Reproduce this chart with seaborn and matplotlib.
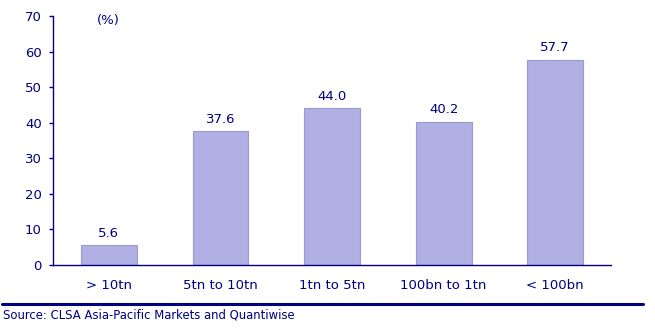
import matplotlib
matplotlib.use("Agg")
import matplotlib.pyplot as plt
import seaborn as sns
import pandas as pd
from matplotlib.lines import Line2D

categories = ["> 10tn", "5tn to 10tn", "1tn to 5tn", "100bn to 1tn", "< 100bn"]
values = [5.6, 37.6, 44.0, 40.2, 57.7]
yticks = [0, 10, 20, 30, 40, 50, 60, 70]

navy = "#000080"
sns.set_theme(style="white")
plt.rcParams["font.family"] = ["DejaVu Sans"]

df = pd.DataFrame({"cat": categories, "val": values})

fig = plt.figure(figsize=(6.55, 3.33), dpi=100)
ax = fig.add_axes([53/655, 1-265/333, (611-53)/655, (265-16)/333])
sns.barplot(data=df, x="cat", y="val", ax=ax, color="#b0b0e4", width=0.5,
            edgecolor="#9a9acc", linewidth=0.8, saturation=1)

ax.set_ylim(0, 70)
ax.set_yticks(yticks)
ax.set_xlim(-0.5, len(categories) - 0.5)
ax.set_xlabel("")
ax.set_ylabel("")
for s in ["top", "right"]:
    ax.spines[s].set_visible(False)
for s in ["left", "bottom"]:
    ax.spines[s].set_color(navy)
    ax.spines[s].set_linewidth(1.0)

fs = 9.5
ax.set_xticks([i - 0.5 for i in range(len(categories) + 1)], minor=True)
ax.tick_params(axis="x", which="major", length=0, pad=10, labelsize=fs, labelcolor=navy)
ax.tick_params(axis="x", which="minor", length=3, width=1, color=navy, direction="out")
ax.tick_params(axis="y", which="major", length=3, width=1, color=navy, direction="out",
               labelsize=fs, labelcolor=navy, pad=5, left=True)
ax.set_xticks(range(len(categories)))
ax.set_xticklabels(categories)

for i, v in enumerate(values):
    ax.annotate(f"{v:.1f}", (i, v), xytext=(0, 4), textcoords="offset points",
                ha="center", va="bottom", color=navy, fontsize=fs)

ax.text(0.1, 0.98, "(%)", transform=ax.transAxes, ha="center", va="center",
        color=navy, fontsize=fs)

fig.add_artist(Line2D([2/655, 643/655], [1-304/333, 1-304/333], color=navy, linewidth=2.2))
fig.text(3/655, 1-315/333, "Source: CLSA Asia-Pacific Markets and Quantiwise", ha="left",
         va="center", color=navy, fontsize=8.4)

fig.savefig("out.png", dpi=100)
